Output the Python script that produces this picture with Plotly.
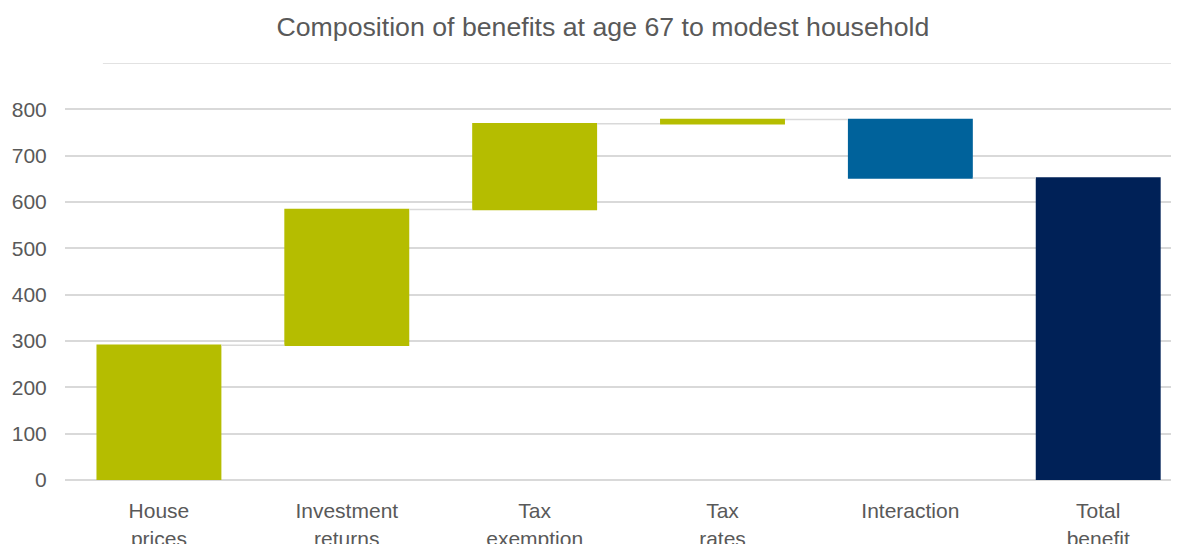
import plotly.graph_objects as go

categories = ["House<br>prices", "Investment<br>returns", "Tax<br>exemption", "Tax<br>rates", "Interaction", "Total<br>benefit"]
values = [291, 293, 185, 9, -126, 652]
measures = ["relative", "relative", "relative", "relative", "relative", "total"]
y_ticks = [0, 100, 200, 300, 400, 500, 600, 700, 800]

GREEN = "#B5BD00"
BLUE = "#00629B"
NAVY = "#002157"
GRID = "#D9D9D9"
TEXT = "#595959"

fig = go.Figure(go.Waterfall(
    x=categories,
    y=values,
    measure=measures,
    width=0.665,
    increasing=dict(marker=dict(color=GREEN, line=dict(width=0))),
    decreasing=dict(marker=dict(color=BLUE, line=dict(width=0))),
    totals=dict(marker=dict(color=NAVY, line=dict(width=0))),
    connector=dict(line=dict(color=GRID, width=1.5)),
    showlegend=False,
))

fig.add_shape(type="line", xref="paper", yref="y", x0=0.034, x1=1, y0=900, y1=900,
              line=dict(color=GRID, width=1.5), layer="below")

fig.update_layout(
    width=1171, height=536,
    margin=dict(l=57, r=0, t=54.6, b=64, autoexpand=False),
    paper_bgcolor="white", plot_bgcolor="white",
    title=dict(text="Composition of benefits at age 67 to modest household",
               x=0.508, xanchor="center", y=0.9646, yanchor="middle",
               font=dict(family="Liberation Sans, Arial", size=26.7, color=TEXT)),
    font=dict(family="Liberation Sans, Arial", size=21, color=TEXT),
    xaxis=dict(range=[-0.5, 5.43], showgrid=False, showline=False, zeroline=False,
               automargin=False,
               ticks="outside", ticklen=12, tickcolor="white",
               tickfont=dict(size=21, color=TEXT)),
    yaxis=dict(range=[0, 900], tickvals=y_ticks, showgrid=True, gridcolor=GRID, gridwidth=1.5,
               zeroline=True, zerolinecolor=GRID, zerolinewidth=1.5, showline=False,
               automargin=False,
               ticks="outside", ticklen=13, tickcolor="white",
               tickfont=dict(size=21, color=TEXT)),
)

fig.write_html("out.html")
